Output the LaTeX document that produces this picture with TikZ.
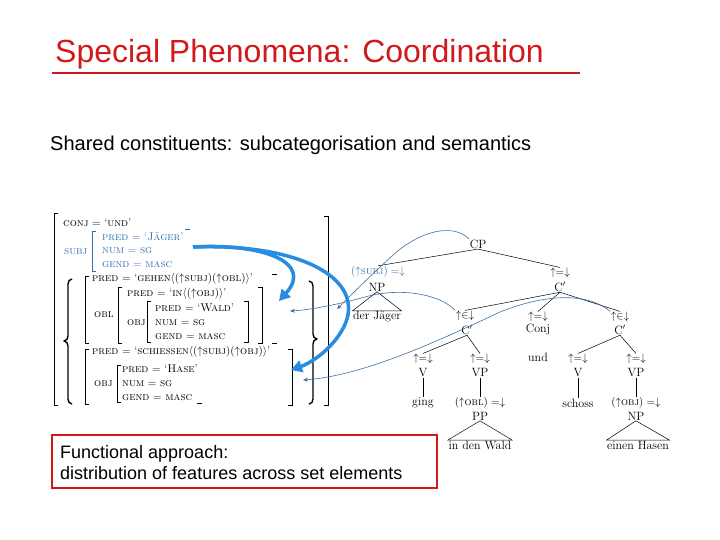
\documentclass[tikz,border=0pt]{standalone}
\usepackage{fontspec}
\newfontfamily\arial{Liberation Sans}
\usetikzlibrary{arrows.meta}
\definecolor{titlered}{RGB}{210,25,25}
\definecolor{thickblue}{RGB}{40,140,225}
\definecolor{thinblue}{RGB}{60,110,160}
\definecolor{fsblue}{RGB}{50,110,175}
\begin{document}
\begin{tikzpicture}[x=1pt,y=-1pt,
  fs/.style={anchor=west, inner sep=0pt, font=\fontsize{11.2}{12}\selectfont},
  fsb/.style={fs, text=fsblue},
  brk/.style={line width=0.8pt},
  brace/.style={line width=1.4pt, line join=round},
  cat/.style={inner sep=0.5pt, font=\fontsize{12}{14}\selectfont},
  ann/.style={inner sep=0.5pt, font=\fontsize{11}{13}\selectfont},
  edge/.style={line width=0.5pt},
  thinarr/.style={thinblue, line width=0.6pt, -{Stealth[length=5pt,width=4pt]}},
  thickarr/.style={thickblue, line width=3.5pt, -{Triangle[length=11pt,width=12pt]}},
  sans/.style={inner sep=0pt, anchor=base west}
]
\useasboundingbox (0,0) rectangle (720,540);

% title
\node[sans, text=titlered, font=\arial\fontsize{32}{36}\selectfont] (title) at (55,63) {Special Phenomena: Coordination};
\draw[titlered, line width=2.5pt] (52,73) -- (580,73);
\node[sans, font=\arial\fontsize{20}{24}\selectfont] (subtitle) at (50,151) {Shared constituents: subcategorisation and semantics};

% box
\draw[titlered, line width=2.5pt] (52,435) rectangle (437,488);
\node[sans, font=\arial\fontsize{18}{22}\selectfont] (box1) at (60,458) {Functional approach:};
\node[sans, font=\arial\fontsize{18}{22}\selectfont] (box2) at (60,479) {distribution of features across set elements};

% ---------------- f-structure ----------------
\draw[brk] (58,213) -- (54,213) -- (54,405) -- (58,405);
\draw[brk] (324,216) -- (328,216) -- (328,405) -- (324,405);

\node[fs] (conj) at (63,223) {\textsc{conj} $=$ `\textsc{und}'};

\node[fsb] (subj) at (64,252) {\textsc{subj}};
\draw[brk, fsblue] (96,231) -- (92,231) -- (92,271) -- (96,271);
\node[fsb] (s1) at (102,237) {\textsc{pred} $=$ `\textsc{Jäger}'};
\node[fsb] (s2) at (102,251) {\textsc{num} $=$ \textsc{sg}};
\node[fsb] (s3) at (102,265) {\textsc{gend} $=$ \textsc{masc}};
\draw[brk, fsblue] (185,229) -- (190,229);

% set braces
\draw[brace] (72,279) to[out=180,in=90] (68,284) -- (68,336) to[out=-90,in=0] (64,341) to[out=0,in=90] (68,346) -- (68,399) to[out=-90,in=180] (72,404);
\draw[brace] (309,281) to[out=0,in=90] (313,286) -- (313,334) to[out=-90,in=180] (317,339) to[out=180,in=90] (313,344) -- (313,399) to[out=-90,in=0] (309,404);

% element 1
\draw[brk] (89,276) -- (85,276) -- (85,343) -- (89,343);
\draw[brk] (272,274) -- (277,274);
\draw[brk] (272,343) -- (277,343);
\node[fs] (e1pred) at (92,279) {\textsc{pred} $=$ `\textsc{gehen}$\langle(\uparrow$\textsc{subj}$)(\uparrow$\textsc{obl}$)\rangle$'};
\node[fs] (obl) at (94,315) {\textsc{obl}};
\draw[brk] (122,287) -- (118,287) -- (118,343) -- (122,343);
\draw[brk] (258,287) -- (262,287) -- (262,343) -- (258,343);
\node[fs] (oblpred) at (127,294) {\textsc{pred} $=$ `\textsc{in}$\langle(\uparrow$\textsc{obj}$)\rangle$'};
\node[fs] (obj1) at (127,323) {\textsc{obj}};
\draw[brk] (151,301) -- (147,301) -- (147,342) -- (151,342);
\draw[brk] (244,301) -- (248,301) -- (248,342) -- (244,342);
\node[fs] (w1) at (155,308) {\textsc{pred} $=$ `\textsc{Wald}'};
\node[fs] (w2) at (155,323) {\textsc{num} $=$ \textsc{sg}};
\node[fs] (w3) at (155,337) {\textsc{gend} $=$ \textsc{masc}};

% element 2
\draw[brk] (89,349) -- (85,349) -- (85,404) -- (89,404);
\draw[brk] (288,349) -- (292,349) -- (292,405) -- (288,405);
\node[fs] (e2pred) at (92,352) {\textsc{pred} $=$ `\textsc{schiessen}$\langle(\uparrow$\textsc{subj}$)(\uparrow$\textsc{obj}$)\rangle$'};
\node[fs] (obj2) at (94,384) {\textsc{obj}};
\draw[brk] (121,365) -- (117,365) -- (117,402) -- (121,402);
\draw[brk] (197,403) -- (202,403);
\node[fs] (h1) at (122,369) {\textsc{pred} $=$ `\textsc{Hase}'};
\node[fs] (h2) at (122,384) {\textsc{num} $=$ \textsc{sg}};
\node[fs] (h3) at (122,398) {\textsc{gend} $=$ \textsc{masc}};

% ---------------- c-structure ----------------
\node[cat] (cp) at (478,244) {CP};
\node[ann, text=fsblue] (a-np) at (378,272) {$(\uparrow$\textsc{subj}$)=\downarrow$};
\node[cat] (np) at (377,287) {NP};
\node[cat] (jaeger) at (377,317) {der Jäger};
\node[ann] (a-c1) at (560,273) {$\uparrow=\downarrow$};
\node[cat] (c1) at (560,287) {C$'$};
\node[ann] (a-cl) at (465,316) {$\uparrow\in\downarrow$};
\node[cat] (cl) at (467,330) {C$'$};
\node[ann] (a-conj) at (538,317) {$\uparrow=\downarrow$};
\node[cat] (conjn) at (538,329) {Conj};
\node[cat] (und) at (538,357) {und};
\node[ann] (a-cr) at (620,317) {$\uparrow\in\downarrow$};
\node[cat] (cr) at (620,330) {C$'$};

\node[ann] (a-v1) at (423,359) {$\uparrow=\downarrow$};
\node[cat] (v1) at (423,373) {V};
\node[cat] (ging) at (423,403) {ging};
\node[ann] (a-vp1) at (480,359) {$\uparrow=\downarrow$};
\node[cat] (vp1) at (480,373) {VP};
\node[ann] (a-pp) at (480,403) {$(\uparrow$\textsc{obl}$)=\downarrow$};
\node[cat] (pp) at (480,416) {PP};
\node[cat] (wald) at (480,445) {in den Wald};

\node[ann] (a-v2) at (578,359) {$\uparrow=\downarrow$};
\node[cat] (v2) at (578,373) {V};
\node[cat] (schoss) at (578,403) {schoss};
\node[ann] (a-vp2) at (636,359) {$\uparrow=\downarrow$};
\node[cat] (vp2) at (636,373) {VP};
\node[ann] (a-np2) at (636,403) {$(\uparrow$\textsc{obj}$)=\downarrow$};
\node[cat] (np2) at (636,416) {NP};
\node[cat] (hasen) at (638,445) {einen Hasen};

\draw[edge] (cp.south) -- (a-np.north);
\draw[edge] (cp.south) -- (a-c1.north);
\draw[edge] (np.south) -- (jaeger.north west) -- (jaeger.north east) -- cycle;
\draw[edge] (c1.south) -- (a-cl.north);
\draw[edge] (c1.south) -- (a-conj.north);
\draw[edge] (c1.south) -- (a-cr.north);
\draw[edge] (cl.south) -- (a-v1.north);
\draw[edge] (cl.south) -- (a-vp1.north);
\draw[edge] (v1.south) -- (ging.north);
\draw[edge] (vp1.south) -- (a-pp.north);
\draw[edge] (pp.south) -- (wald.north west) -- (wald.north east) -- cycle;
\draw[edge] (cr.south) -- (a-v2.north);
\draw[edge] (cr.south) -- (a-vp2.north);
\draw[edge] (v2.south) -- (schoss.north);
\draw[edge] (vp2.south) -- (a-np2.north);
\draw[edge] (np2.south) -- (hasen.north west) -- (hasen.north east) -- cycle;

% mapping arrows
\coordinate (fsouter) at (337,309);
\coordinate (fsel1) at (290,311);
\coordinate (fsel2) at (303,380);
\coordinate (subjout) at (193,247);
\coordinate (el1in) at (279,301);
\coordinate (el2in) at (291,370);

\draw[thinarr] (cp.north west) .. controls (452,222) and (418,232) .. (392,256) .. controls (370,276) and (350,296) .. (fsouter);
\draw[thinarr] (a-cl.north west) .. controls (440,294) and (400,287) .. (365,297) .. controls (340,304) and (310,310) .. (fsel1);
\draw[thinarr] (a-cr.north west) .. controls (590,294) and (550,292) .. (500,312) .. controls (430,345) and (360,376) .. (fsel2);

\draw[thickarr] (subjout) .. controls (262,243) and (314,262) .. (el1in);
\draw[thickarr] (subjout) .. controls (305,243) and (372,282) .. (341,332) .. controls (328,353) and (308,364) .. (el2in);
\end{tikzpicture}
\end{document}
